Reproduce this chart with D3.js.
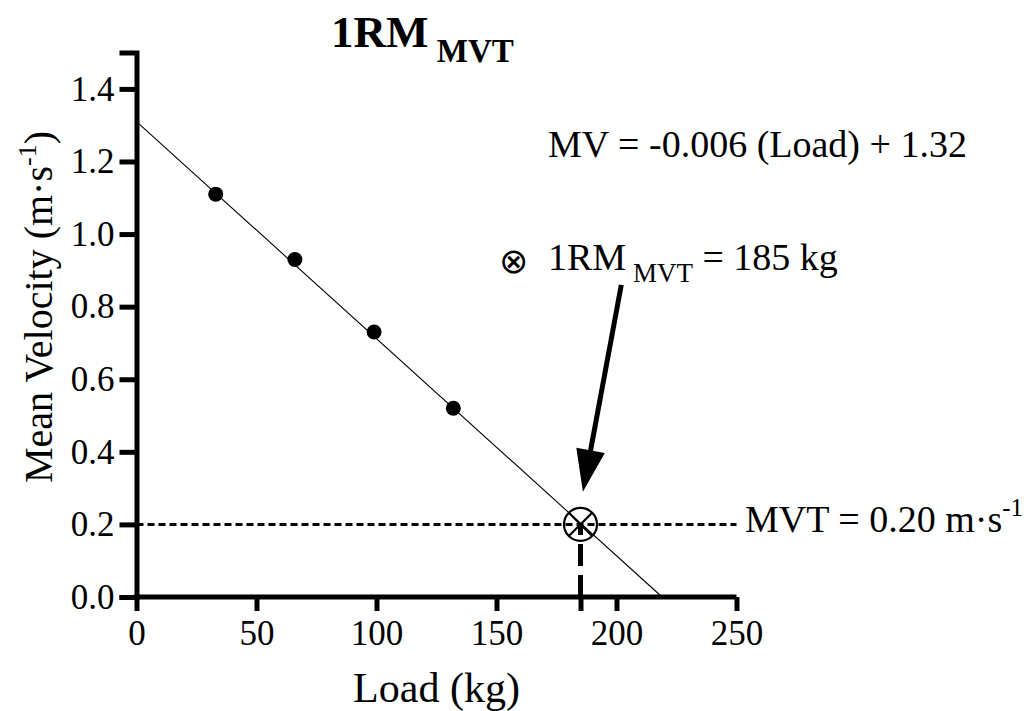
<!DOCTYPE html>
<html>
<head>
<meta charset="utf-8">
<script src="https://cdn.jsdelivr.net/npm/d3@7"></script>
<style>
  html, body { margin: 0; padding: 0; background: #fff; }
  svg { display: block; }
  text { font-family: "Liberation Serif", "Times New Roman", serif; fill: #000; }
</style>
</head>
<body>
<svg id="chart" width="1026" height="711"></svg>
<script>
// ---- data ----
const loads = [33, 66, 99, 132];
const velocities = [1.11, 0.93, 0.73, 0.52];
const fitLoads = [0, 219];
const fitVelocities = [1.31, 0];
const xTicks = [0, 50, 100, 150, 185, 200, 250];
const xTickLabels = ["0", "50", "100", "150", "", "200", "250"];
const yTicks = [0, 0.2, 0.4, 0.6, 0.8, 1.0, 1.2, 1.4];
const yTickLabels = ["0.0", "0.2", "0.4", "0.6", "0.8", "1.0", "1.2", "1.4"];
const mvtValue = 0.20;
const oneRMValue = 185;
const arrowLoads = [202, 186];
const arrowVelocities = [0.86, 0.29];

// ---- layout ----
const svg = d3.select("#chart");
const x = d3.scaleLinear().domain([0, 250]).range([136.5, 736.5]);
const y = d3.scaleLinear().domain([0, 1.5]).range([597, 52.6]);

// dashed MVT horizontal line
svg.append("line")
  .attr("x1", x(0)).attr("x2", x(250))
  .attr("y1", y(mvtValue)).attr("y2", y(mvtValue))
  .attr("stroke", "#000").attr("stroke-width", 3)
  .attr("stroke-dasharray", "7,4");

// vertical dashed line at 1RM
svg.append("line")
  .attr("x1", x(oneRMValue)).attr("x2", x(oneRMValue))
  .attr("y1", y(0)).attr("y2", y(mvtValue))
  .attr("stroke", "#000").attr("stroke-width", 5)
  .attr("stroke-dasharray", "22,9");

// regression line
const fit = fitLoads.map((d, i) => [d, fitVelocities[i]]);
svg.append("path")
  .attr("d", d3.line().x(d => x(d[0])).y(d => y(d[1]))(fit))
  .attr("fill", "none").attr("stroke", "#000").attr("stroke-width", 1.1);

// axes
const xAxis = d3.axisBottom(x).tickValues(xTicks)
  .tickFormat((d, i) => xTickLabels[i]).tickSizeOuter(0).tickSize(14).tickPadding(9);
const yAxis = d3.axisLeft(y).tickValues(yTicks)
  .tickFormat((d, i) => yTickLabels[i]).tickSizeOuter(0).tickSize(17).tickPadding(5);

const gx = svg.append("g").attr("transform", `translate(0,${y(0)})`).call(xAxis);
const gy = svg.append("g").attr("transform", `translate(${x(0)},0)`).call(yAxis);
[gx, gy].forEach(g => {
  g.select(".domain").attr("stroke", "#000").attr("stroke-width", 5);
  g.selectAll(".tick line").attr("stroke", "#000").attr("stroke-width", 5);
  g.selectAll(".tick text")
    .attr("font-family", "Liberation Serif, Times New Roman, serif")
    .attr("font-size", 35).attr("fill", "#000");
});
gx.select(".domain").attr("d", `M${x(0) - 2.5},0H${x(250)}`);

// data points
svg.append("g").selectAll("circle")
  .data(loads.map((d, i) => [d, velocities[i]]))
  .join("circle")
  .attr("cx", d => x(d[0])).attr("cy", d => y(d[1]))
  .attr("r", 7.5).attr("fill", "#000");

// 1RM marker (circle with x)
const cx = x(oneRMValue), cy = y(mvtValue), r = 16.5;
svg.append("circle").attr("cx", cx).attr("cy", cy).attr("r", r)
  .attr("fill", "none").attr("stroke", "#000").attr("stroke-width", 2.2);
const k = r * Math.SQRT1_2;
svg.append("path")
  .attr("d", `M${cx - k},${cy - k}L${cx + k},${cy + k}M${cx + k},${cy - k}L${cx - k},${cy + k}`)
  .attr("stroke", "#000").attr("stroke-width", 2.2);

// arrow
const ax0 = x(arrowLoads[0]), ay0 = y(arrowVelocities[0]);
const ax1 = x(arrowLoads[1]), ay1 = y(arrowVelocities[1]);
const len = Math.hypot(ax1 - ax0, ay1 - ay0);
const ux = (ax1 - ax0) / len, uy = (ay1 - ay0) / len;
const headLen = 42, headHalf = 14.5;
const bx = ax1 - ux * headLen, by = ay1 - uy * headLen;
svg.append("line")
  .attr("x1", ax0).attr("y1", ay0).attr("x2", bx + ux * 2).attr("y2", by + uy * 2)
  .attr("stroke", "#000").attr("stroke-width", 5);
svg.append("path")
  .attr("d", `M${ax1},${ay1}L${bx - uy * headHalf},${by + ux * headHalf}L${bx + uy * headHalf},${by - ux * headHalf}Z`)
  .attr("fill", "#000");

// title
const title = svg.append("text").attr("x", 331).attr("y", 47)
  .attr("font-weight", "bold").attr("font-size", 45);
title.append("tspan").text("1RM");
title.append("tspan").attr("font-size", 33).attr("dy", 15).text(" MVT");

// equation
svg.append("text").attr("x", 548).attr("y", 157).attr("font-size", 38)
  .text("MV = -0.006 (Load) + 1.32");

// 1RM annotation
svg.append("text").attr("x", 499).attr("y", 273).attr("font-size", 35)
  .attr("font-family", "DejaVu Sans, sans-serif").attr("font-weight", 300).text("\u2297");
const ann = svg.append("text").attr("x", 548).attr("y", 270).attr("font-size", 38);
ann.append("tspan").text("1RM");
ann.append("tspan").attr("font-size", 27).attr("dy", 12).text(" MVT");
ann.append("tspan").attr("dy", -12).text(" = 185 kg");

// MVT label
const mvtLab = svg.append("text").attr("x", 745).attr("y", 532).attr("font-size", 38);
mvtLab.append("tspan").text("MVT = 0.20 m\u00B7s");
mvtLab.append("tspan").attr("font-size", 25).attr("dy", -16).text("-1");

// axis titles
svg.append("text").attr("x", x(125)).attr("y", 702).attr("font-size", 42)
  .attr("text-anchor", "middle").text("Load (kg)");
const yt = svg.append("text").attr("transform", `translate(52,307) rotate(-90)`)
  .attr("font-size", 40).attr("text-anchor", "middle");
yt.append("tspan").text("Mean Velocity (m\u00B7s");
yt.append("tspan").attr("font-size", 26).attr("dy", -16).text("-1");
yt.append("tspan").attr("dy", 16).text(")");
</script>
</body>
</html>
